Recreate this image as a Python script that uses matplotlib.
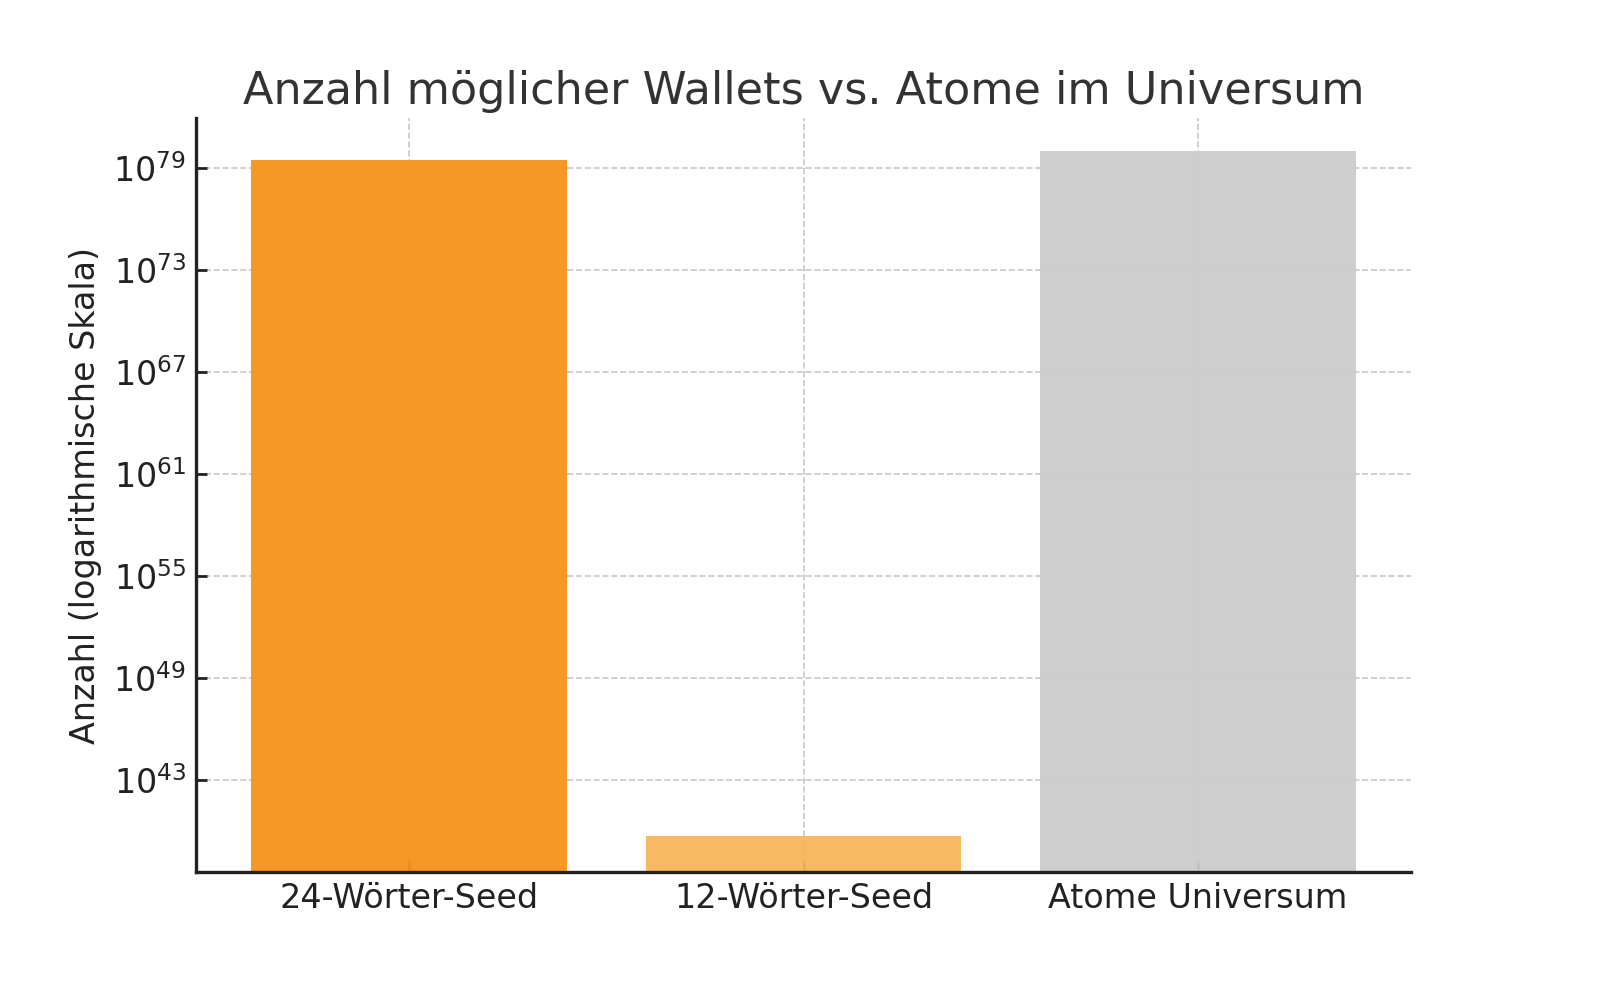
import matplotlib.pyplot as plt

categories = ["24-Wörter-Seed", "12-Wörter-Seed", "Atome Universum"]
values = [2.96e79, 5.44e39, 1e80]
colors = ["#F7931A", "#F7B55A", "#CCCCCC"]

fig = plt.figure(figsize=(8, 5), dpi=200)
ax = fig.add_axes([0.1225, 0.128, 0.7595, 0.754])

ax.bar(categories, values, width=0.8, color=colors, alpha=0.95, zorder=2)
ax.set_yscale("log")
ax.set_ylim(10.0**37.6, 10.0**81.95)
ax.set_yticks([10.0**e for e in range(43, 80, 6)])
ax.minorticks_off()

ax.grid(True, linestyle="--", color="#bbbbbb", linewidth=0.6, alpha=0.8, zorder=1)
ax.tick_params(direction="in", length=4, width=1, colors="#222222", labelsize=12)
for side in ("top", "right"):
    ax.spines[side].set_visible(False)
for side in ("left", "bottom"):
    ax.spines[side].set_linewidth(1.2)
    ax.spines[side].set_color("#222222")

ax.set_ylabel("Anzahl (logarithmische Skala)", fontsize=12, color="#222222")
ax.set_title("Anzahl möglicher Wallets vs. Atome im Universum", fontsize=16, color="#333333", pad=5)

fig.savefig("out.png", dpi=200)
